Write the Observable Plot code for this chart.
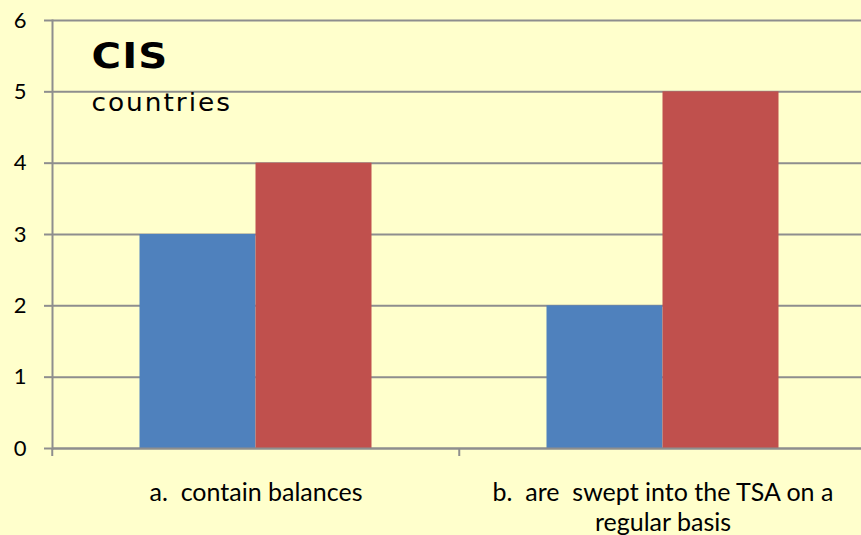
<!DOCTYPE html>
<html><head><meta charset="utf-8">
<script src="https://cdn.jsdelivr.net/npm/d3@7"></script>
<script src="https://cdn.jsdelivr.net/npm/@observablehq/plot@0.6"></script>
<style>
html,body{margin:0;padding:0;background:#FFFFCC;overflow:hidden;}
svg text{white-space:pre;}
</style></head><body><div id="chart"></div>
<script>
const categories = ["a.  contain balances", "b.  are  swept into the TSA on a\nregular basis"];
const seriesNames = ["Series 1", "Series 2"];
const series1 = [3, 2];
const series2 = [4, 5];
const yTicks = [0, 1, 2, 3, 4, 5, 6];
const titleLines = ["CIS", "countries"];
const colors = ["#4F81BD", "#C0504D"];

const data = categories.flatMap((c, i) => [
  {cat: c, series: seriesNames[0], value: series1[i]},
  {cat: c, series: seriesNames[1], value: series2[i]}
]);

const W = 861, H = 535, mL = 51.5, mR = -5.5, mT = 20, mB = 87;
const facetWidth = (W - mL - mR) / categories.length;
const grid = "#8E8E8E";
const font = "Lato, 'Open Sans', sans-serif";

const chart = Plot.plot({
  width: W, height: H,
  marginLeft: mL, marginRight: mR, marginTop: mT, marginBottom: mB,
  style: {background: "#FFFFCC", fontFamily: font, color: "#000", overflow: "hidden"},
  fx: {domain: categories, padding: 0, label: null},
  x: {domain: seriesNames, paddingInner: 0, paddingOuter: 0.7527, axis: null},
  y: {domain: [0, 6], label: null},
  color: {domain: seriesNames, range: colors},
  marks: [
    Plot.gridY(yTicks, {stroke: grid, strokeWidth: 2, strokeOpacity: 1}),
    Plot.barY(data, {fx: "cat", x: "series", y: "value", fill: "series"}),
    Plot.ruleY([0], {stroke: grid, strokeWidth: 2}),
    Plot.frame({anchor: "left", facet: "super", stroke: grid, strokeWidth: 2}),
    Plot.axisY(yTicks, {tickSize: 8, tickPadding: 18, tickFormat: d3.format("d"), stroke: grid, strokeWidth: 2, fontSize: 22, label: null}),
    Plot.axisFx({anchor: "bottom", tickSize: 8, tickFormat: () => "", dx: -facetWidth / 2, stroke: grid, strokeWidth: 2, label: null}),
    Plot.axisFx({anchor: "bottom", tickSize: 0, tickPadding: 32, fontSize: 25, lineHeight: 1.17, label: null}),
    Plot.text([{cat: categories[0]}], {fx: "cat", text: () => titleLines[0], frameAnchor: "top-left", dx: 39, dy: 47, lineAnchor: "bottom", fontSize: 35, fontWeight: "bold", fontFamily: "DejaVu Sans"}),
    Plot.text([{cat: categories[0]}], {fx: "cat", text: () => titleLines[1], frameAnchor: "top-left", dx: 39, dy: 90, lineAnchor: "bottom", fontSize: 24, fontFamily: "DejaVu Sans"})
  ]
});
document.getElementById("chart").appendChild(chart);

function stretch(content, spacing, sx) {
  d3.select(chart).selectAll("text").filter(function() { return this.textContent === content; }).each(function() {
    this.style.letterSpacing = spacing;
    const b = this.getBBox();
    const t = this.getAttribute("transform") || "";
    this.setAttribute("transform", `${t} translate(${b.x},0) scale(${sx},1) translate(${-b.x},0)`);
  });
}
stretch(titleLines[0], "1px", 1.15);
stretch(titleLines[1], "1.8px", 1.1);
</script></body></html>
